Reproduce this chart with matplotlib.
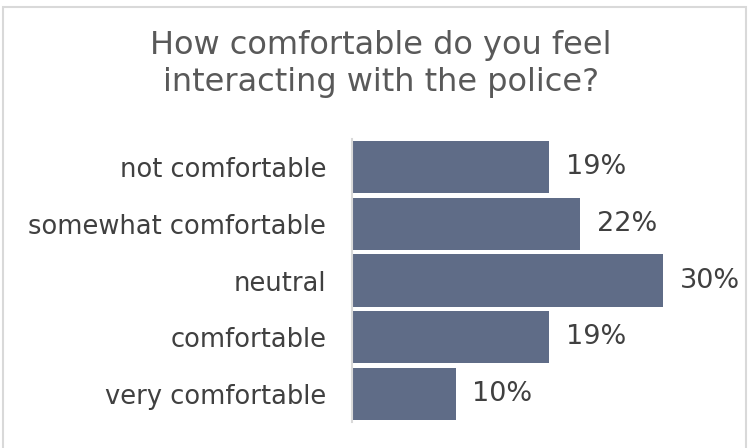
import matplotlib
matplotlib.use('Agg')
import matplotlib.pyplot as plt
from matplotlib.patches import Rectangle

# Survey answers, top to bottom
answers = ['not comfortable', 'somewhat comfortable', 'neutral',
           'comfortable', 'very comfortable']
percents = [19, 22, 30, 19, 10]

title_text = 'How comfortable do you feel\ninteracting with the police?'

W, H = 749, 448
fig = plt.figure(figsize=(W / 100, H / 100), dpi=100)
plt.rcParams['font.family'] = ['DejaVu Sans']

# light frame round the whole chart
fig.patches.append(Rectangle((3 / W, -0.01), 743 / W, 1 - 7 / H + 0.01,
                             transform=fig.transFigure, fill=False,
                             edgecolor='#d9d9d9', linewidth=1.5))

ax = fig.add_axes([352 / W, 1 - 422 / H, (663 - 352) / W, (422 - 139) / H])

y = list(range(len(answers)))
ax.barh(y, percents, height=0.92, color='#5f6c87')
ax.set_xlim(0, 30)
ax.set_ylim(len(answers) - 0.5, -0.5)

for pos, val in zip(y, percents):
    ax.text(val + 1.6, pos, str(val) + '%', va='center', ha='left',
            fontsize=19.5, color='#404040', clip_on=False)

ax.set_yticks(y)
ax.set_yticklabels(answers, fontsize=18.5, color='#404040')
ax.tick_params(axis='y', length=0, pad=18.5)
ax.set_xticks([])

for side in ['top', 'right', 'bottom']:
    ax.spines[side].set_visible(False)
ax.spines['left'].set_color('#d9d9d9')
ax.spines['left'].set_linewidth(1.5)

fig.text(381 / W, 1 - 64 / H, title_text, ha='center', va='center',
         fontsize=23, color='#595959', linespacing=1.22)

fig.savefig('out.png', dpi=100, facecolor='white')
